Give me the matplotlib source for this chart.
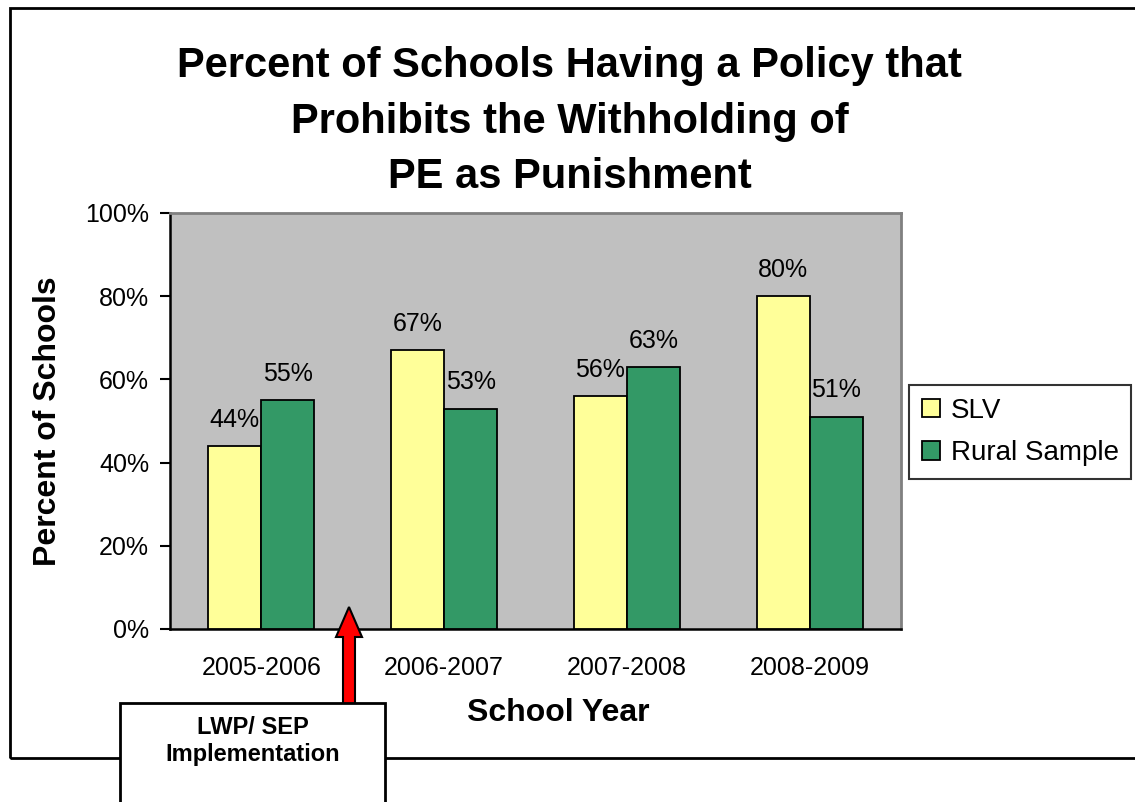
import matplotlib.pyplot as plt
from matplotlib.patches import Rectangle, FancyArrow
from matplotlib.transforms import IdentityTransform
import numpy as np

plt.rcParams['font.family'] = ['Liberation Sans', 'DejaVu Sans']

years = ['2005-2006', '2006-2007', '2007-2008', '2008-2009']
slv = [44, 67, 56, 80]
rural = [55, 53, 63, 51]
series_names = ['SLV', 'Rural Sample']
y_ticks = [0, 20, 40, 60, 80, 100]

W, H = 1135, 802
fig = plt.figure(figsize=(W / 100, H / 100), dpi=100)


def fx(x):
    return x / W


def fy(y):
    # pixel row counted from the top -> figure fraction
    return 1 - y / H


# outer chart frame (right edge runs off the canvas)
fig.add_artist(Rectangle((fx(10), fy(758)), 1.2, fy(8) - fy(758),
                         transform=fig.transFigure, fill=False,
                         edgecolor='black', linewidth=2))

ax = fig.add_axes([fx(170), fy(629), fx(901) - fx(170), fy(213) - fy(629)])
ax.set_facecolor('#C0C0C0')

x = np.arange(len(years))
bw = 0.29
b1 = ax.bar(x - bw / 2, slv, bw, color='#FFFF99', edgecolor='black',
            linewidth=1.3, label=series_names[0], zorder=3)
b2 = ax.bar(x + bw / 2, rural, bw, color='#339966', edgecolor='black',
            linewidth=1.3, label=series_names[1], zorder=3)

for bars, vals in ((b1, slv), (b2, rural)):
    for rect, v in zip(bars, vals):
        ax.annotate(f'{v}%', (rect.get_x() + rect.get_width() / 2, v),
                    xytext=(0, 19), textcoords='offset points',
                    ha='center', va='center', fontsize=18)

ax.set_xlim(-0.5, len(years) - 0.5)
ax.set_ylim(0, 100)
ax.set_yticks(y_ticks)
ax.set_yticklabels([f'{t}%' for t in y_ticks], fontsize=18)
ax.set_xticks(x)
ax.set_xticklabels(years, fontsize=18)
ax.tick_params(axis='x', length=0, pad=19.5)
ax.tick_params(axis='y', length=7.5, width=1.5, pad=7.5, direction='out')

for side in ('top', 'right'):
    ax.spines[side].set_color('#808080')
    ax.spines[side].set_linewidth(2)
for side in ('left', 'bottom'):
    ax.spines[side].set_color('black')
    ax.spines[side].set_linewidth(1.8)

leg = fig.legend(handles=[b1, b2], labels=series_names, loc='center left',
                 bbox_to_anchor=(fx(909), fy(432)), bbox_transform=fig.transFigure,
                 fontsize=20, frameon=True, fancybox=False, edgecolor='black',
                 handlelength=0.65, handleheight=0.65, handletextpad=0.4,
                 borderpad=0.45, labelspacing=0.6, borderaxespad=0)
leg.get_frame().set_linewidth(1.5)

fig.text(0.502, fy(46), 'Percent of Schools Having a Policy that\nProhibits the Withholding of\nPE as Punishment',
         ha='center', va='top', fontsize=30, fontweight='bold', linespacing=1.5)
fig.text(fx(48), fy(421), 'Percent of Schools', rotation=90, ha='center', va='center',
         fontsize=23, fontweight='bold')
fig.text(fx(558), fy(713), 'School Year', ha='center', va='center',
         fontsize=23, fontweight='bold')

# implementation marker: red arrow pointing up from the note box
fig.add_artist(FancyArrow(349, H - 705, 0, 98, width=12, head_width=26,
                          head_length=30, length_includes_head=True,
                          transform=IdentityTransform(), facecolor='red',
                          edgecolor='black', linewidth=1.5))
fig.add_artist(Rectangle((fx(120), fy(820)), fx(385) - fx(120), fy(703) - fy(820),
                         transform=fig.transFigure, facecolor='white',
                         edgecolor='black', linewidth=2))
fig.text(fx(253), fy(741), 'LWP/ SEP\nImplementation', ha='center', va='center',
         fontsize=17, fontweight='bold', linespacing=1.25)

fig.savefig('out.png', dpi=100)
